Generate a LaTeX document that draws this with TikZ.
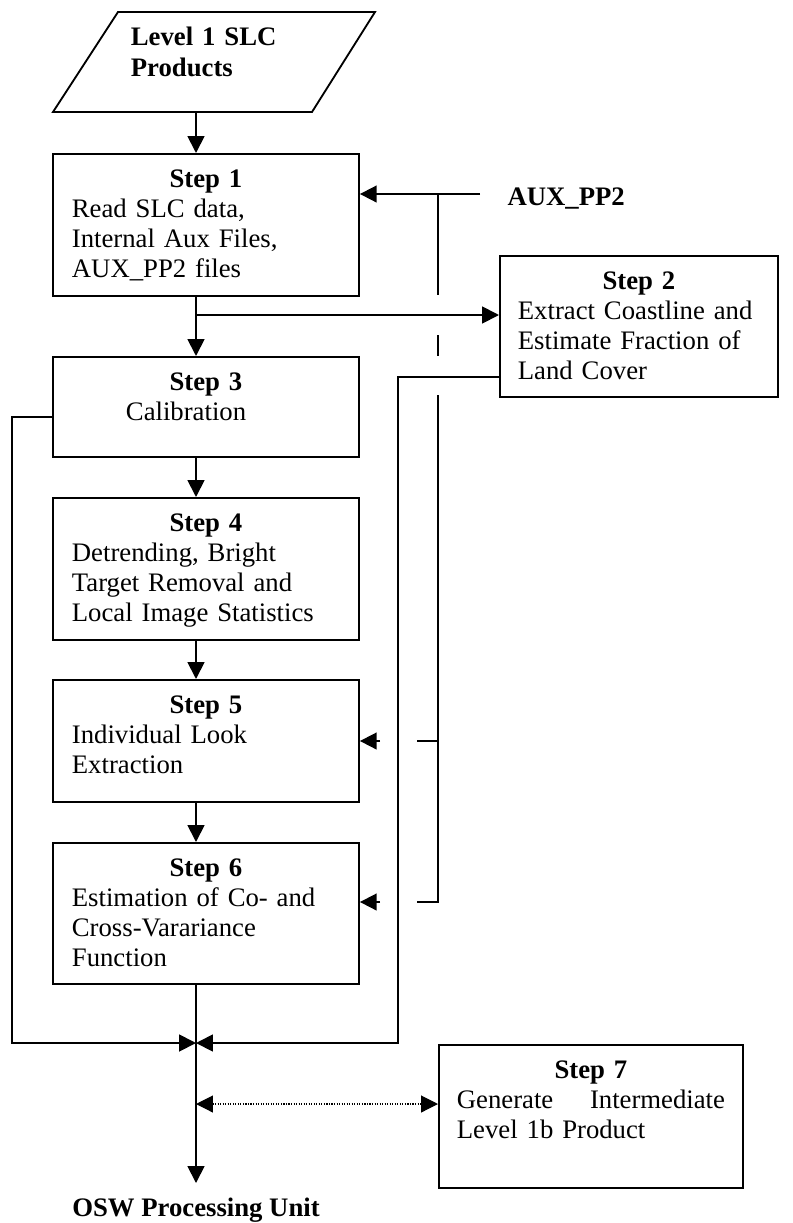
\documentclass[tikz,border=0pt]{standalone}
\usepackage{fontspec}
\setmainfont{Liberation Serif}
\usetikzlibrary{arrows.meta}

\begin{document}
\begin{tikzpicture}[%
        x = 0.025cm,
        y = -0.025cm,
        line width = 1.3pt,
        >= {Triangle[length = 0.42cm, width = 0.42cm]},
        font = \fontsize{19}{21.3}\selectfont,
        stepbox/.style = {draw, anchor = north west,
            inner xsep = 0.475cm, inner ysep = 0.25cm,
            text height = 0.6cm},
        hop/.style = {line cap = butt}
    ]

        % Page frame of the reference picture.
        \useasboundingbox (0,0) rectangle (792,1223);

        % The main column that the arrows run down.
        \coordinate (col) at (196,0);

        % Corners of the input parallelogram.
        \coordinate (P1) at (53,112);
        \coordinate (P2) at (118,12);
        \coordinate (P3) at (375,12);
        \coordinate (P4) at (312,112);
        \draw (P1) -- (P2) -- (P3) -- (P4) -- cycle;
        \node[anchor = base west, text width = 5cm, inner xsep = 0pt,
            font = \fontsize{19}{22.5}\selectfont] (lvl) at (130,45)
            {\bfseries Level 1 SLC\\ Products};

        % The processing steps.
        \node[stepbox, text width = 6.7cm, text depth = 2.45cm] (s1) at (52,153)
            {{\centering\bfseries Step 1\par}Read SLC data,\\ Internal Aux Files,\\ AUX\_PP2 files};
        \node[stepbox, text width = 6.05cm, inner xsep = 0.45cm, text depth = 2.425cm] (s2) at (499,255)
            {{\centering\bfseries Step 2\par}Extract Coastline and\\ Estimate Fraction of\\ Land Cover};
        \node[stepbox, text width = 6.7cm, text depth = 1.4cm] (s3) at (52,356)
            {{\centering\bfseries Step 3\par}\hspace*{1.35cm}Calibration};
        \node[stepbox, text width = 6.7cm, text depth = 2.45cm] (s4) at (52,497)
            {{\centering\bfseries Step 4\par}Detrending, Bright\\ Target Removal and\\ Local Image Statistics};
        \node[stepbox, text width = 6.7cm, text depth = 1.95cm] (s5) at (52,679)
            {{\centering\bfseries Step 5\par}Individual Look\\ Extraction};
        \node[stepbox, text width = 6.7cm, text depth = 2.425cm] (s6) at (52,842)
            {{\centering\bfseries Step 6\par}Estimation of Co- and\\ Cross-Varariance\\ Function};
        \node[stepbox, text width = 6.7cm, inner xsep = 0.45cm, text depth = 2.475cm] (s7) at (438,1044)
            {{\centering\bfseries Step 7\par}Generate\hfill Intermediate\\ Level 1b Product};

        % Outside labels.
        \node[anchor = base west] (aux) at (502,205) {\bfseries AUX\_PP2};
        \node[anchor = base] (osw) at (196,1216) {\bfseries OSW Processing Unit};

        % Points where the side lines turn or meet.
        \coordinate (inbot) at (196,112);
        \coordinate (br) at (196,315);
        \coordinate (auxin) at (480,194);
        \coordinate (join) at (196,1043);
        \coordinate (out) at (196,1183);
        \coordinate (dots) at (196,1104);

        % Down the main column.
        \draw[->] (inbot) -- (s1.north -| col);
        \draw[->] (s1.south -| col) -- (s3.north -| col);
        \draw[->] (s3.south -| col) -- (s4.north -| col);
        \draw[->] (s4.south -| col) -- (s5.north -| col);
        \draw[->] (s5.south -| col) -- (s6.north -| col);
        \draw[->] (s6.south -| col) -- (out);

        % Branch off to Step 2.
        \draw[->] (br) -- (br -| s2.west);

        % AUX_PP2 input and its feed line, broken where lines cross it.
        \draw[->] (auxin) -- (auxin -| s1.east);
        \draw[hop] (438,194) -- (438,295);
        \draw[hop] (438,335) -- (438,356);
        \draw[hop] (438,395) -- (438,902) -- (417,902);
        \draw (438,741) -- (417,741);
        \draw[->] (380,741) -- (s5.east |- 0,741);
        \draw[->] (380,902) -- (s6.east |- 0,902);

        % Returns from Step 3 and Step 2 to the main column.
        \draw[->] (s3.west |- 0,417) -- (12,417) -- (12,1043) -- (join);
        \draw[->] (s2.west |- 0,377) -- (398,377) -- (398,1043) -- (join);

        % Exchange with Step 7.
        \draw[<->, densely dotted, line width = 0.8pt] (dots) -- (dots -| s7.west);
    \end{tikzpicture}
\end{document}
